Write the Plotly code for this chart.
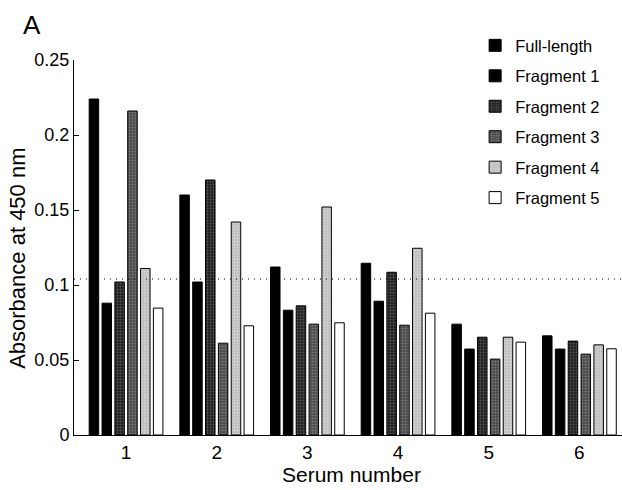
import plotly.graph_objects as go

sera = [1, 2, 3, 4, 5, 6]
series_names = ["Full-length", "Fragment 1", "Fragment 2", "Fragment 3", "Fragment 4", "Fragment 5"]
full_length = [0.224, 0.160, 0.112, 0.1145, 0.0739, 0.0661]
fragment_1 = [0.0879, 0.102, 0.0832, 0.0892, 0.0573, 0.0573]
fragment_2 = [0.102, 0.170, 0.0861, 0.1085, 0.0652, 0.0626]
fragment_3 = [0.216, 0.0612, 0.0739, 0.0732, 0.0506, 0.0539]
fragment_4 = [0.111, 0.142, 0.152, 0.1245, 0.0652, 0.0601]
fragment_5 = [0.0846, 0.0728, 0.0748, 0.0812, 0.0619, 0.0575]
cutoff = 0.104
y_ticks = [0, 0.05, 0.1, 0.15, 0.2, 0.25]

values = [full_length, fragment_1, fragment_2, fragment_3, fragment_4, fragment_5]
styles = [
    dict(bg="#000000", fg="#000000", shape=""),
    dict(bg="#000000", fg="#000000", shape=""),
    dict(bg="#1e1e1e", fg="#8a8a8a", shape="."),
    dict(bg="#4a4a4a", fg="#aaaaaa", shape="."),
    dict(bg="#bdbdbd", fg="#f2f2f2", shape="."),
    dict(bg="#ffffff", fg="#ffffff", shape=""),
]

FONT = "Liberation Sans, Arial, Helvetica, sans-serif"

fig = go.Figure()
for name, vals, st in zip(series_names, values, styles):
    marker = dict(color=st["bg"], line=dict(color="#000000", width=1))
    if st["shape"]:
        marker["pattern"] = dict(shape=st["shape"], fgcolor=st["fg"], bgcolor=st["bg"],
                                 size=3, solidity=0.35)
    fig.add_trace(go.Bar(x=sera, y=vals, name=name, marker=marker, legendgroup=name))

fig.add_shape(type="line", xref="paper", yref="y", x0=0, x1=1, y0=cutoff, y1=cutoff,
              line=dict(color="#000000", width=1.2, dash="1px,5px"))

fig.update_layout(
    width=622, height=490,
    margin=dict(l=74, r=0, t=60, b=55),
    paper_bgcolor="white", plot_bgcolor="white",
    barmode="group", bargap=0.15, bargroupgap=0.26,
    font=dict(family=FONT, color="#000000"),
    showlegend=True,
    legend=dict(x=0.732, y=1.085, xanchor="left", yanchor="top",
                font=dict(family=FONT, size=16.5, color="#000000"),
                tracegroupgap=6, bgcolor="rgba(0,0,0,0)"),
    xaxis=dict(range=[0.426, 6.47], tickvals=sera, ticktext=[str(s) for s in sera],
               showline=True, linecolor="#000000", linewidth=1, ticks="",
               showgrid=False, zeroline=False, tickfont=dict(size=19)),
    yaxis=dict(range=[0, 0.25], tickvals=y_ticks, ticktext=["0", "0.05", "0.1", "0.15", "0.2", "0.25"],
               showline=True, linecolor="#000000", linewidth=1, ticks="inside", ticklen=5,
               tickcolor="#000000", showgrid=False, zeroline=False, tickfont=dict(size=18)),
    annotations=[
        dict(text="A", xref="paper", yref="paper", x=-0.097, y=1.14, xanchor="left", yanchor="top",
             showarrow=False, font=dict(size=26)),
        dict(text="Absorbance at 450 nm", xref="paper", yref="paper", x=-0.102, y=0.47,
             xanchor="center", yanchor="middle", textangle=-90, showarrow=False, font=dict(size=22)),
        dict(text="Serum number", xref="paper", yref="paper", x=0.507, y=-0.104,
             xanchor="center", yanchor="middle", showarrow=False, font=dict(size=21)),
    ],
)

fig.write_html("out.html", config={"displayModeBar": False},
               post_script="document.body.style.margin='0';document.body.style.overflow='hidden';")
